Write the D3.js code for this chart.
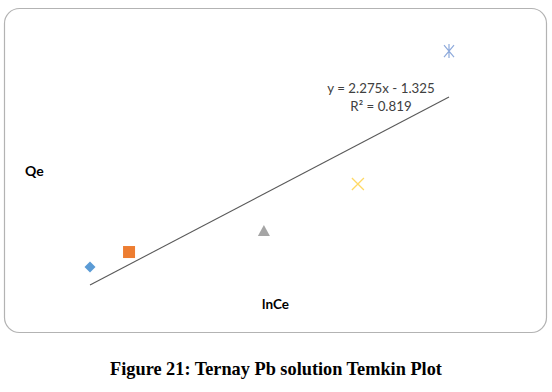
<!DOCTYPE html>
<html>
<head>
<meta charset="utf-8">
<script src="https://cdn.jsdelivr.net/npm/d3@7"></script>
<style>
  body { margin: 0; background: #fff; }
</style>
</head>
<body>
<div id="chart"></div>
<script>
// lnCe / Qe values, one point per series
let seriesNames = ["S1", "S2", "S3", "S4", "S5"];
let lnCe = [1.2, 1.374, 1.975, 2.394, 2.8];
let qe = [1.753, 2.044, 2.45, 3.36, 5.935];
let trendSlope = 2.275;
let trendIntercept = -1.325;
let trendLabels = ["y = 2.275x - 1.325", "R² = 0.819"];
let xTitle = "lnCe";
let yTitle = "Qe";
let caption = "Figure 21: Ternay Pb solution Temkin Plot";

let width = 552;
let height = 392;

const svg = d3.select("#chart").append("svg")
    .attr("width", width)
    .attr("height", height);

// chart border
svg.append("rect")
    .attr("x", 4.5)
    .attr("y", 8.5)
    .attr("width", 542)
    .attr("height", 324)
    .attr("rx", 15)
    .attr("fill", "#fff")
    .attr("stroke", "#b3b3b3")
    .attr("stroke-width", 1.2);

let x = d3.scaleLinear().domain([1.2, 2.8]).range([90, 449]);
let y = d3.scaleLinear().domain([0, 6]).range([357.6, 47.7]);

// trendline
let xs = d3.extent(lnCe);
svg.append("line")
    .attr("x1", x(xs[0]))
    .attr("y1", y(trendSlope * xs[0] + trendIntercept))
    .attr("x2", x(xs[1]))
    .attr("y2", y(trendSlope * xs[1] + trendIntercept))
    .attr("stroke", "#595959")
    .attr("stroke-width", 1.1);

let pts = seriesNames.map((s, i) => ({ name: s, x: lnCe[i], y: qe[i] }));

let marks = svg.append("g");

pts.forEach((d, i) => {
    let cx = x(d.x), cy = y(d.y);
    let g = marks.append("g").attr("transform", `translate(${cx},${cy})`);
    if (i === 0) {
        g.append("path").attr("d", "M0,-5.5L5.5,0L0,5.5L-5.5,0Z")
            .attr("fill", "#5b9bd5");
    } else if (i === 1) {
        g.append("rect").attr("x", -6).attr("y", -6).attr("width", 12).attr("height", 12)
            .attr("fill", "#ed7d31");
    } else if (i === 2) {
        g.append("path").attr("d", "M0,-6L6,5L-6,5Z")
            .attr("fill", "#a5a5a5");
    } else if (i === 3) {
        g.append("path").attr("d", "M-6,-6L6,6M-6,6L6,-6")
            .attr("stroke", "#ffd966").attr("stroke-width", 1.3).attr("fill", "none");
    } else {
        g.append("path").attr("d", "M-5,-6L5,6M-5,6L5,-6M0,-7L0,7")
            .attr("stroke", "#8eaadb").attr("stroke-width", 1.2).attr("fill", "none");
    }
});

// trendline label
svg.append("g")
    .attr("font-family", "Lato, 'Open Sans', sans-serif")
    .attr("font-size", 13.3)
    .attr("fill", "#404040")
    .attr("text-anchor", "middle")
    .selectAll("text")
    .data(trendLabels)
    .join("text")
    .attr("x", 381)
    .attr("y", (d, i) => 93 + i * 18)
    .text(d => d);

// axis titles
svg.append("text")
    .attr("x", 25)
    .attr("y", 176)
    .attr("font-family", "Lato, 'Open Sans', sans-serif")
    .attr("font-size", 14)
    .attr("font-weight", "bold")
    .attr("fill", "#000")
    .text(yTitle);

svg.append("text")
    .attr("x", 275.5)
    .attr("y", 309)
    .attr("text-anchor", "middle")
    .attr("font-family", "Lato, 'Open Sans', sans-serif")
    .attr("font-size", 13.5)
    .attr("font-weight", "bold")
    .attr("fill", "#000")
    .text(xTitle);

// caption
svg.append("text")
    .attr("x", 276)
    .attr("y", 375)
    .attr("text-anchor", "middle")
    .attr("font-family", "'Liberation Serif', 'Times New Roman', serif")
    .attr("font-size", 18.3)
    .attr("font-weight", "bold")
    .attr("fill", "#000")
    .text(caption);
</script>
</body>
</html>
